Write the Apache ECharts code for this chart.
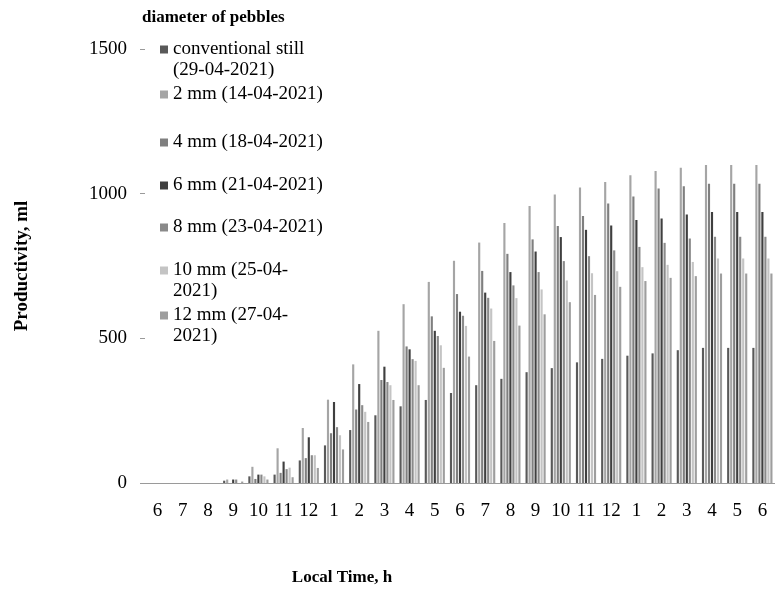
<!DOCTYPE html>
<html>
<head>
<meta charset="utf-8">
<script src="https://cdn.jsdelivr.net/npm/echarts@6.0.0/dist/echarts.min.js"></script>
<style>
  html, body { margin: 0; padding: 0; background: #fff; }
  #chart { width: 775px; height: 592px; }
</style>
</head>
<body>
<div id="chart"></div>
<script>
// local time, 6 am day one to 6 pm day two
const hours = ['6', '7', '8', '9', '10', '11', '12', '1', '2', '3', '4', '5',
  '6', '7', '8', '9', '10', '11', '12', '1', '2', '3', '4', '5', '6']

// cumulative productivity, ml
const conventional = [0, 0, 0, 8, 23, 29, 78, 130, 183, 234, 265, 287, 311, 338, 360, 383, 397, 417, 429, 440, 448, 459, 467, 467, 467]
const mm2 = [0, 0, 0, 12, 56, 120, 190, 288, 410, 526, 618, 695, 768, 831, 899, 957, 997, 1021, 1040, 1064, 1078, 1090, 1099, 1099, 1099]
const mm4 = [0, 0, 0, 0, 14, 35, 86, 172, 254, 356, 472, 576, 653, 733, 792, 842, 888, 923, 966, 990, 1018, 1026, 1034, 1034, 1034]
const mm6 = [0, 0, 0, 12, 29, 74, 158, 280, 342, 402, 462, 526, 592, 658, 729, 800, 850, 875, 890, 909, 914, 928, 937, 937, 937]
const mm8 = [0, 0, 0, 12, 29, 48, 96, 193, 269, 349, 428, 508, 578, 640, 683, 729, 767, 784, 804, 816, 830, 845, 851, 851, 851]
const mm10 = [0, 0, 0, 0, 23, 53, 96, 165, 246, 338, 422, 476, 543, 603, 639, 669, 700, 725, 732, 746, 754, 764, 776, 776, 776]
const mm12 = [0, 0, 0, 5, 12, 20, 52, 116, 211, 287, 338, 398, 437, 491, 544, 583, 625, 650, 678, 698, 709, 715, 724, 724, 724]

const seriesNames = ['conventional still (29-04-2021)', '2 mm (14-04-2021)', '4 mm (18-04-2021)',
  '6 mm (21-04-2021)', '8 mm (23-04-2021)', '10 mm (25-04-2021)', '12 mm (27-04-2021)']
const seriesData = [conventional, mm2, mm4, mm6, mm8, mm10, mm12]

// legend text is wrapped like in the original figure
const legendLines = [['conventional still', '(29-04-2021)'], ['2 mm (14-04-2021)'], ['4 mm (18-04-2021)'],
  ['6 mm (21-04-2021)'], ['8 mm (23-04-2021)'], ['10 mm (25-04-', '2021)'], ['12 mm (27-04-', '2021)']]

const colors = ['#595959', '#a5a5a5', '#7f7f7f', '#3f3f3f', '#8a8a8a', '#c4c4c4', '#9e9e9e']
const legendY = [50, 95, 143, 186, 228, 271, 316]
const font = 'Liberation Serif'

const myChart = echarts.init(document.getElementById('chart'))

const options = {
  animation: false,
  color: colors,
  title: {
    text: 'diameter of pebbles',
    left: 142,
    top: 9,
    padding: 0,
    textStyle: { fontFamily: font, fontSize: 17, fontWeight: 'bold', color: '#000' }
  },
  legend: seriesNames.map((name, i) => ({
    data: [name],
    left: 160,
    top: legendY[i] - 10,
    padding: 0,
    icon: 'rect',
    itemWidth: 8,
    itemHeight: 8,
    selectedMode: false,
    formatter: () => legendLines[i][0],
    textStyle: { fontFamily: font, fontSize: 19, color: '#000' }
  })),
  graphic: legendLines.map((lines, i) => lines[1] ? {
    type: 'text',
    left: 173,
    top: legendY[i] + 11,
    style: { text: lines[1], font: '19px "Liberation Serif"', fill: '#000' }
  } : null).filter(Boolean),
  grid: { left: 145, right: -3, top: 49, bottom: 109 },
  xAxis: {
    type: 'category',
    data: hours,
    name: 'Local Time, h',
    nameLocation: 'middle',
    nameGap: 86,
    nameTextStyle: { fontFamily: font, fontSize: 17, fontWeight: 'bold', color: '#000', padding: [0, 236, 0, 0] },
    axisLine: { lineStyle: { color: '#9a9a9a' } },
    axisTick: { length: 6, lineStyle: { color: '#9a9a9a' } },
    axisLabel: { interval: 0, margin: 19, fontFamily: font, fontSize: 19, color: '#000' }
  },
  yAxis: {
    type: 'value',
    min: 0,
    max: 1500,
    interval: 500,
    name: 'Productivity, ml',
    nameLocation: 'middle',
    nameGap: 113,
    nameTextStyle: { fontFamily: font, fontSize: 19, fontWeight: 'bold', color: '#000' },
    axisLine: { show: false },
    axisTick: { show: true, length: 5, lineStyle: { color: '#9a9a9a' } },
    splitLine: { show: false },
    axisLabel: { margin: 18, fontFamily: font, fontSize: 19, color: '#000', formatter: v => String(v) }
  },
  series: seriesNames.map((name, i) => ({
    name: name,
    type: 'bar',
    data: seriesData[i],
    barGap: '40%',
    barCategoryGap: '20%'
  }))
}

myChart.setOption(options)
</script>
</body>
</html>
